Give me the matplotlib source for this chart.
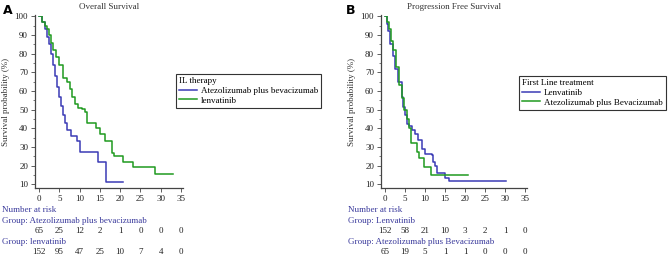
import numpy as np
import matplotlib.pyplot as plt
import matplotlib.transforms as mtransforms

plt.rcParams['font.family'] = ['Liberation Serif', 'DejaVu Serif']

BLUE = '#3b3bb5'
GREEN = '#1f9a1f'
NAVY = '#3a3a9c'

# Panel A - overall survival (step times in months, survival %)
os_atezo_t = [0, 0.8, 1.5, 2.0, 2.5, 3.0, 3.5, 4.0, 4.5, 5.0, 5.5, 6.0, 6.5, 7.0, 8.0, 9.4, 10.1, 14.6, 16.5]
os_atezo_s = [100, 97, 93, 89, 85, 80, 74, 68, 62, 57, 52, 47, 43, 39, 36, 33, 27.5, 22, 11]
os_atezo_end = 20.6
os_lenva_t = [0, 0.7, 1.5, 2.0, 2.5, 3.0, 3.5, 4.2, 5.0, 5.8, 6.8, 7.6, 8.2, 8.8, 9.5, 10.5, 11.3,
              11.8, 14.0, 15.0, 16.3, 18.0, 18.5, 20.7, 23.2, 28.7]
os_lenva_s = [100, 97, 95, 93, 90, 86, 82, 78, 74, 67, 65, 61, 57, 53, 51, 50.5, 49,
              43, 40, 37, 33, 27, 25, 22, 19.5, 15.5]
os_lenva_end = 33.1

# Panel B - progression free survival
pfs_lenva_t = [0, 0.4, 0.8, 1.25, 1.9, 2.5, 3.3, 4.2, 4.6, 5.0, 5.4, 6.0, 6.7, 7.5, 8.3, 9.2, 10.0,
               11.7, 12.1, 12.5, 12.9, 15.0, 16.0]
pfs_lenva_s = [100, 96, 92, 85, 79, 72, 65, 57, 51.5, 47, 42.5, 41, 39, 37, 34, 29, 26.5,
               25.5, 22, 20, 16, 13.5, 11.5]
pfs_lenva_end = 30.2
pfs_atezo_t = [0, 0.4, 1.1, 1.5, 2.1, 2.75, 3.6, 4.2, 4.8, 5.4, 6.0, 6.4, 7.9, 8.6, 9.75, 11.4]
pfs_atezo_s = [100, 97, 93, 87, 82, 73, 63, 56, 50, 45, 40, 32, 27.5, 24, 19.5, 15]
pfs_atezo_end = 20.8

risk_times = [0, 5, 10, 15, 20, 25, 30, 35]
os_risk_atezo = [65, 25, 12, 2, 1, 0, 0, 0]
os_risk_lenva = [152, 95, 47, 25, 10, 7, 4, 0]
pfs_risk_lenva = [152, 58, 21, 10, 3, 2, 1, 0]
pfs_risk_atezo = [65, 19, 5, 1, 1, 0, 0, 0]

fig = plt.figure(figsize=(6.69, 2.56), dpi=100)
W, H = 669, 256
FS = 6.5


def km(ax, t, s, end, color, label):
    tt = list(t) + [end]
    ss = list(s) + [s[-1]]
    ax.step(tt, ss, where='post', color=color, lw=1.1, label=label)


def style(ax):
    ax.set_xlim(-1, 35.5)
    ax.set_ylim(8, 100.5)
    ax.set_xticks(range(0, 36, 5))
    ax.set_yticks(range(10, 101, 10))
    ax.set_yticks(range(10, 101, 5), minor=True)
    ax.spines['top'].set_visible(False)
    ax.spines['right'].set_visible(False)
    for sp in ('left', 'bottom'):
        ax.spines[sp].set_color('#444444')
        ax.spines[sp].set_linewidth(0.9)
    ax.tick_params(labelsize=FS, length=3, width=0.6, color='#444444', labelcolor='#222222', pad=2)
    ax.tick_params(which='minor', length=1.5, width=0.5, color='#444444')
    ax.set_ylabel('Survival probability (%)', fontsize=FS, color='#333333', labelpad=3)


def risk_table(ax, x_text, rows):
    tr = mtransforms.blended_transform_factory(ax.transData, fig.transFigure)
    fig.text(x_text / W, 1 - 210 / H, 'Number at risk', fontsize=FS, color=NAVY, va='center')
    ys = [(220.7, 231), (241.7, 251.7)]
    for (gy, ny), (name, counts) in zip(ys, rows):
        fig.text(x_text / W, 1 - gy / H, 'Group: ' + name, fontsize=FS, color=NAVY, va='center')
        for t, n in zip(risk_times, counts):
            ax.text(t, 1 - ny / H, str(n), transform=tr, fontsize=FS, color='#222222',
                    ha='center', va='center', clip_on=False)


def legend(ax, title, x0, y0):
    leg = ax.legend(title=title, loc='upper left', bbox_to_anchor=(x0 / W, 1 - y0 / H),
                    bbox_transform=fig.transFigure, fontsize=FS, title_fontsize=FS,
                    frameon=True, fancybox=False, edgecolor='#333333', framealpha=1,
                    handlelength=2.0, handletextpad=0.4, labelspacing=0.15,
                    borderpad=0.35, borderaxespad=0)
    leg.get_frame().set_linewidth(0.8)
    leg._legend_box.align = 'left'


# Panel A
axA = fig.add_axes([35 / W, 68 / H, 148 / W, 172.5 / H])
km(axA, os_atezo_t, os_atezo_s, os_atezo_end, BLUE, 'Atezolizumab plus bevacizumab')
km(axA, os_lenva_t, os_lenva_s, os_lenva_end, GREEN, 'lenvatinib')
style(axA)
axA.set_title('Overall Survival', fontsize=FS, color='#333333', pad=5)
legend(axA, 'IL therapy', 176, 74)
risk_table(axA, 2, [('Atezolizumab plus bevacizumab', os_risk_atezo),
                    ('lenvatinib', os_risk_lenva)])
fig.text(3 / W, 1 - 10 / H, 'A', fontsize=9, fontweight='bold', family='DejaVu Sans', va='center')

# Panel B
axB = fig.add_axes([381 / W, 68 / H, 146 / W, 172.5 / H])
km(axB, pfs_lenva_t, pfs_lenva_s, pfs_lenva_end, BLUE, 'Lenvatinib')
km(axB, pfs_atezo_t, pfs_atezo_s, pfs_atezo_end, GREEN, 'Atezolizumab plus Bevacizumab')
style(axB)
axB.set_title('Progression Free Survival', fontsize=FS, color='#333333', pad=5)
legend(axB, 'First Line treatment', 519, 76)
risk_table(axB, 348, [('Lenvatinib', pfs_risk_lenva),
                      ('Atezolizumab plus Bevacizumab', pfs_risk_atezo)])
fig.text(346 / W, 1 - 10 / H, 'B', fontsize=9, fontweight='bold', family='DejaVu Sans', va='center')

fig.savefig('out.png', dpi=100)
